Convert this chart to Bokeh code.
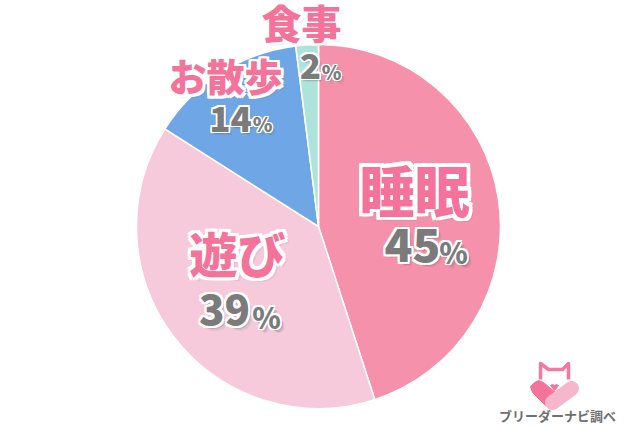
from math import pi
from bokeh.plotting import figure
from bokeh.models import Range1d
from bokeh.core.properties import value
from bokeh.embed import file_html
from bokeh.resources import INLINE

categories = ["睡眠", "遊び", "お散歩", "食事"]
shares = [45, 39, 14, 2]
colors = ["#f691ac", "#f6c9db", "#6fa6e6", "#aee3dc"]
pct_labels = ["45", "39", "14", "2"]
source_label = "ブリーダーナビ調べ"

W, H = 640, 426
p = figure(width=W, height=H, output_backend="svg", toolbar_location=None,
           x_range=Range1d(0, W), y_range=Range1d(0, H),
           min_border=0, outline_line_color=None,
           background_fill_color="white", border_fill_color="white")
p.axis.visible = False
p.grid.visible = False

def Y(py):
    return 426 - py

CX, CY, R = 318, 226, 182
start = pi / 2
total = sum(shares)
for share, color in zip(shares, colors):
    end = start - 2 * pi * share / total
    p.wedge(x=[CX], y=[Y(CY)], radius=R, start_angle=[end], end_angle=[start],
            fill_color=color, line_color="white", line_width=1.5)
    start = end

FONT = "Noto Sans CJK JP Black"

def label(txt, px, py, size, color, outline=2.0, shadow=3):
    common = dict(x=[px], y=[Y(py)], text=[txt], text_font=value(FONT),
                  text_font_style="bold", text_font_size=f"{size}px",
                  text_align="center", text_baseline="middle")
    for s, a in ((shadow + 1.5, 0.10), (shadow, 0.22)):
        p.text(x_offset=s, y_offset=s, text_color="#555555", text_alpha=a, **common)
    for dx, dy in ((-1, -1), (0, -1), (1, -1), (-1, 0), (1, 0), (-1, 1), (0, 1), (1, 1)):
        p.text(x_offset=dx * outline, y_offset=dy * outline, text_color="white", **common)
    p.text(text_color=color, **common)

PINK = "#f4739a"
GRAY = "#7b7b7b"
# category labels
label(categories[0], 414, 187, 55, PINK, outline=3.5)
label(categories[1], 237, 251, 48, PINK, outline=3)
label(categories[2], 225, 74, 38, PINK, outline=2.5, shadow=2)
label(categories[3], 301, 21, 40, PINK, outline=2.5, shadow=2)
# percentages
label(pct_labels[0], 412, 244, 46, GRAY)
label("%", 453, 250, 29, GRAY, outline=1.5)
label(pct_labels[1], 224, 309, 42, GRAY)
label("%", 266, 315, 29, GRAY, outline=1.5)
label(pct_labels[2], 230, 118, 35, GRAY, outline=1.5, shadow=2)
label("%", 262, 123, 20, GRAY, outline=1.2, shadow=2)
label(pct_labels[3], 310, 65, 35, GRAY, outline=1.5, shadow=2)
label("%", 331, 71, 20, GRAY, outline=1.2, shadow=2)

# source logo
p.line(x=[540, 540, 548, 562, 568, 568], y=[Y(v) for v in (379, 363, 369, 369, 363, 379)],
       line_color="#f5799f", line_width=3.5, line_join="round")
p.patch(x=[530, 534, 538, 543, 555, 545, 532],
        y=[Y(v) for v in (386, 382, 380, 382, 392, 405, 392)], fill_color="#f4739a", line_color="#f4739a")
p.line(x=[552, 571], y=[Y(402), Y(388)], line_color="#f6b7cd", line_width=15, line_cap="round")
p.patch(x=[550, 552, 554, 556, 558, 554], y=[Y(v) for v in (385, 384, 385, 384, 385, 390)],
        fill_color="#f4739a", line_color="#f4739a")
p.text(x=[557], y=[Y(415)], text=[source_label], text_font=value("Noto Sans CJK JP"), text_font_style="bold",
       text_font_size="13px", text_color="#707070", text_align="center", text_baseline="middle")

open("out.html", "w").write(file_html(p, INLINE))
